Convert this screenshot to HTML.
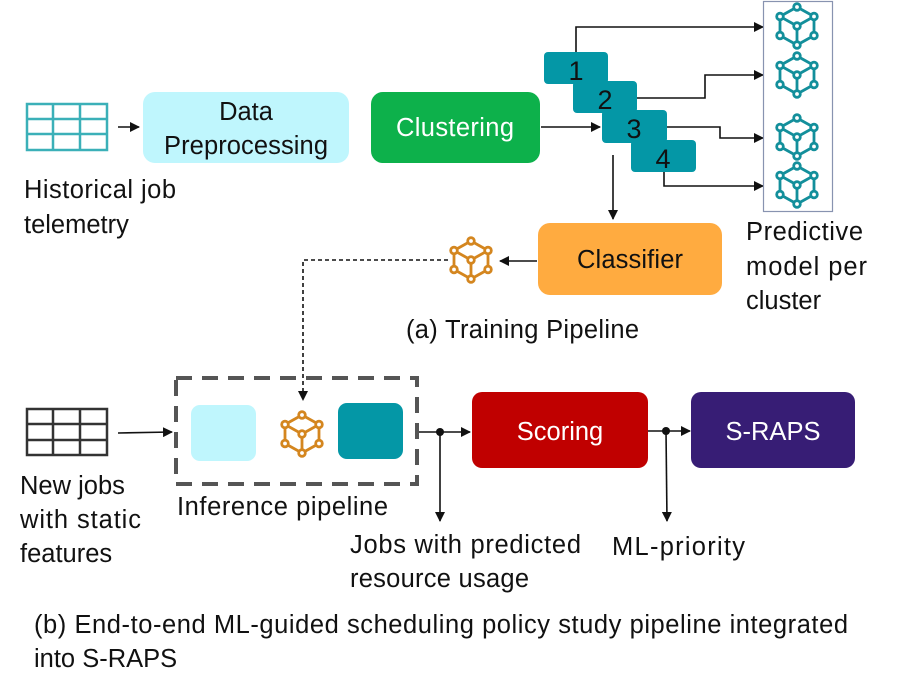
<!DOCTYPE html>
<html><head><meta charset="utf-8"><style>body{margin:0;background:#fff}svg{display:block}text{font-family:"Liberation Sans",sans-serif;font-size:25.5px;fill:#111}</style></head><body>
<svg width="897" height="694" viewBox="0 0 897 694" xmlns="http://www.w3.org/2000/svg">
<defs>
<marker id="ah" markerWidth="10" markerHeight="10" refX="9" refY="5" orient="auto" markerUnits="userSpaceOnUse"><path d="M0,0 L10,5 L0,10 z" fill="#111"/></marker>
<g id="cube" fill="#fff" stroke-width="2.8">
<path d="M0,-19 L17,-9.5 L17,9.5 L0,19 L-17,9.5 L-17,-9.5 Z M-17,-9.5 L0,0 L17,-9.5 M0,0 L0,19" fill="none"/>
<circle cx="0" cy="-19" r="3.3"/><circle cx="17" cy="-9.5" r="3.3"/><circle cx="17" cy="9.5" r="3.3"/><circle cx="0" cy="19" r="3.3"/><circle cx="-17" cy="9.5" r="3.3"/><circle cx="-17" cy="-9.5" r="3.3"/><circle cx="0" cy="0" r="3.3"/>
</g>
</defs>
<g stroke="#3bb0b8" stroke-width="2.5" fill="none"><rect x="27" y="104" width="80" height="46"/><path d="M27,119H107M27,134H107M53,104V150M80,104V150"/></g>
<g stroke="#333" stroke-width="2.5" fill="none"><rect x="27" y="409" width="80" height="46"/><path d="M27,424H107M27,440H107M53,409V455M80,409V455"/></g>
<text x="24" y="198" textLength="152">Historical job</text><text x="24" y="233">telemetry</text>
<rect x="143" y="92" width="206" height="71" rx="12" fill="#bff6fd"/>
<text x="246" y="120" text-anchor="middle">Data</text><text x="246" y="154" text-anchor="middle" textLength="164">Preprocessing</text>
<rect x="371" y="92" width="169" height="71" rx="12" fill="#0db14b"/>
<text x="455" y="136" text-anchor="middle" style="fill:#fff" textLength="118">Clustering</text>
<g stroke="#111" stroke-width="1.6" fill="none">
<path d="M118,127H139" marker-end="url(#ah)"/>
<path d="M541,127H600" marker-end="url(#ah)"/>
<path d="M576,52V27H763" marker-end="url(#ah)"/>
<path d="M637,98H705V75H763" marker-end="url(#ah)"/>
<path d="M667,127H720V138H763" marker-end="url(#ah)"/>
<path d="M664,172V186H763" marker-end="url(#ah)"/>
<path d="M613,155V219" marker-end="url(#ah)"/>
<path d="M537,261H500" marker-end="url(#ah)"/>
<path d="M448,260H303V400" stroke-dasharray="4,3" marker-end="url(#ah)"/>
<path d="M118,433L172,432" marker-end="url(#ah)"/>
<path d="M417,432H470" marker-end="url(#ah)"/>
<path d="M440,432V521" marker-end="url(#ah)"/>
<path d="M648,431H690" marker-end="url(#ah)"/>
<path d="M666,431L667,521" marker-end="url(#ah)"/>
</g>
<circle cx="440" cy="432" r="4" fill="#111"/><circle cx="666" cy="431" r="4" fill="#111"/>
<g fill="#0497a6">
<rect x="544" y="52" width="64" height="32" rx="4"/><rect x="573" y="81" width="64" height="32" rx="4"/><rect x="602" y="110" width="65" height="33" rx="4"/><rect x="631" y="140" width="65" height="32" rx="4"/></g>
<text x="576" y="80" text-anchor="middle" style="font-size:27px">1</text><text x="605" y="109" text-anchor="middle" style="font-size:27px">2</text><text x="634" y="138" text-anchor="middle" style="font-size:27px">3</text><text x="663" y="168" text-anchor="middle" style="font-size:27px">4</text>
<rect x="763.5" y="1.5" width="69" height="210" fill="none" stroke="#8893b0" stroke-width="1.2"/>
<g stroke="#138f9b"><use href="#cube" x="797" y="26"/><use href="#cube" x="797" y="75"/><use href="#cube" x="797" y="137"/><use href="#cube" x="797" y="185"/></g>
<text x="746" y="240" textLength="117">Predictive</text><text x="746" y="275" textLength="121">model per</text><text x="746" y="309">cluster</text>
<rect x="538" y="223" width="184" height="72" rx="12" fill="#ffab40"/>
<text x="630" y="268" text-anchor="middle" textLength="106">Classifier</text>
<g stroke="#d4861f"><use href="#cube" x="471" y="260"/><use href="#cube" x="302" y="434"/></g>
<text x="406" y="338" textLength="233">(a) Training Pipeline</text>
<rect x="176" y="378" width="241" height="106" fill="none" stroke="#555" stroke-width="4" stroke-dasharray="16,10"/>
<rect x="191" y="405" width="65" height="56" rx="9" fill="#bff6fd"/>
<rect x="338" y="403" width="65" height="56" rx="9" fill="#0497a6"/>
<text x="177" y="515" textLength="211">Inference pipeline</text>
<text x="20" y="494">New jobs</text><text x="20" y="528" textLength="121">with static</text><text x="20" y="562">features</text>
<rect x="472" y="392" width="176" height="76" rx="10" fill="#c00000"/>
<text x="560" y="440" text-anchor="middle" style="fill:#fff">Scoring</text>
<rect x="691" y="392" width="164" height="76" rx="10" fill="#371d75"/>
<text x="773" y="440" text-anchor="middle" style="fill:#fff">S-RAPS</text>
<text x="350" y="553" textLength="231">Jobs with predicted</text><text x="350" y="587" textLength="179">resource usage</text>
<text x="612" y="555" textLength="133">ML-priority</text>
<text x="34" y="633" textLength="814">(b) End-to-end ML-guided scheduling policy study pipeline integrated</text>
<text x="34" y="667">into S-RAPS</text>
</svg>
</body></html>
